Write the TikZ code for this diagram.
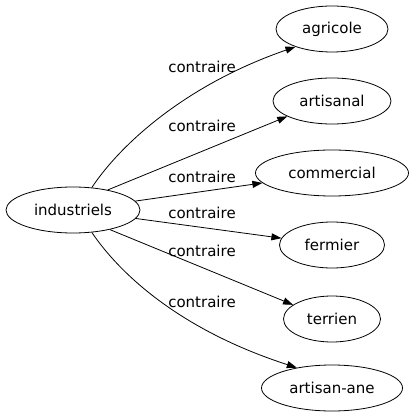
\documentclass[tikz,border=0pt]{standalone}
\usepackage{fontspec}
\setmainfont{DejaVu Sans}
\usepackage{tikz}
\usetikzlibrary{shapes.geometric, arrows.meta, positioning}
\tikzstyle{word} = [ellipse, draw=black, line width=0.8pt, minimum height=46pt, inner sep=0pt, text centered, font=\fontsize{15}{18}\selectfont]
\tikzstyle{lbl} = [inner sep=0pt, font=\fontsize{15}{18}\selectfont]
\tikzstyle{arrow} = [line width=0.8pt, -{Triangle[length=10pt, width=7pt]}]

\begin{document}
\begin{tikzpicture}[x=1pt, y=1pt, node distance=72pt]
        \useasboundingbox (0,0) rectangle (413,-419);

        \node [word, minimum width=134pt] (ind) at (73,-210) {industriels};

        \node [word, minimum width=112pt] (agr) at (332,-29) {agricole};
        \node [word, minimum width=118pt, below of=agr] (art) {artisanal};
        \node [word, minimum width=153pt, below of=art] (com) {commercial};
        \node [word, minimum width=105pt, below of=com] (fer) {fermier};
        \node [word, minimum width=97pt, below of=fer, yshift=-2pt] (ter) {terrien};
        \node [word, minimum width=141pt, below of=ter, yshift=3pt] (ane) {artisan-ane};

        \node [lbl] (l1) at (202,-67) {contraire};
        \node [lbl] (l2) at (202,-126) {contraire};
        \node [lbl] (l3) at (202,-177) {contraire};
        \node [lbl] (l4) at (202,-213) {contraire};
        \node [lbl] (l5) at (202,-251) {contraire};
        \node [lbl] (l6) at (202,-302) {contraire};

        \draw [arrow] (ind.50) .. controls (120,-145) and (185,-85) .. (agr.206);
        \draw [arrow] (ind.30) -- (art.199);
        \draw [arrow] (ind) -- (com);
        \draw [arrow] (ind) -- (fer);
        \draw [arrow] (ind.332) -- (ter.160);
        \draw [arrow] (ind.310) .. controls (120,-274) and (180,-330) .. (ane.150);
    \end{tikzpicture}
\end{document}
